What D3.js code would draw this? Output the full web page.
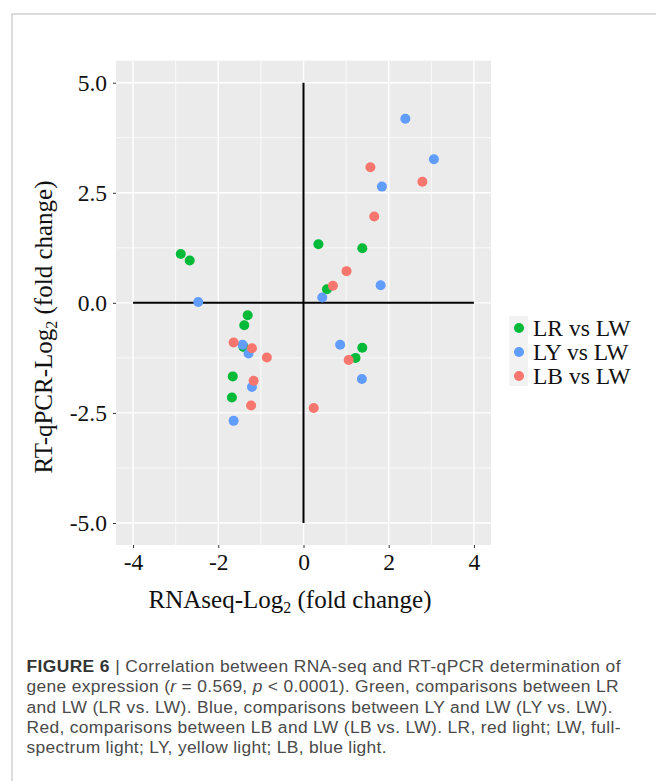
<!DOCTYPE html>
<html>
<head>
<meta charset="utf-8">
<script src="https://cdn.jsdelivr.net/npm/d3@7"></script>
<style>
  body { margin: 0; background: #fff; }
  svg { display: block; }
</style>
</head>
<body>
<div id="my_dataviz"></div>
<script>
// groups, in legend order
var groups = ["LR vs LW", "LY vs LW", "LB vs LW"];
var groupColors = ["#00BA38", "#619CFF", "#F8766D"];

// LR vs LW (green)
var lrX = [-2.88, -2.67, -1.31, -1.39, -1.41, -1.66, -1.68, 0.35, 1.38, 0.55, 1.38, 1.22];
var lrY = [1.11, 0.96, -0.28, -0.51, -1.00, -1.67, -2.15, 1.33, 1.24, 0.31, -1.02, -1.25];
// LY vs LW (blue)
var lyX = [-2.47, -1.43, -1.29, -1.21, -1.64, 2.39, 3.06, 1.84, 1.81, 0.44, 0.86, 1.37];
var lyY = [0.02, -0.95, -1.15, -1.91, -2.68, 4.18, 3.26, 2.64, 0.40, 0.12, -0.95, -1.73];
// LB vs LW (red)
var lbX = [-1.64, -1.21, -0.86, -1.17, -1.23, 0.24, 1.57, 2.79, 1.66, 1.01, 0.69, 1.06];
var lbY = [-0.90, -1.03, -1.24, -1.77, -2.33, -2.39, 3.08, 2.75, 1.96, 0.72, 0.39, -1.30];

// tick values
var xTicks = [-4, -2, 0, 2, 4];
var xMinor = [-3, -1, 1, 3];
var yTicks = [-5, -2.5, 0, 2.5, 5];
var yMinor = [-3.75, -1.25, 1.25, 3.75];

var W = 656, H = 781;
var svg = d3.select("#my_dataviz")
  .append("svg")
  .attr("width", W)
  .attr("height", H);

// outer frame (only top/left visible)
svg.append("rect")
  .attr("x", 12).attr("y", 14)
  .attr("width", W).attr("height", H)
  .attr("fill", "none")
  .attr("stroke", "#c4c4c4")
  .attr("stroke-width", 1.2);

// panel
var panel = {left: 116, right: 491, top: 60.7, bottom: 545};

var x = d3.scaleLinear().domain([-4.4, 4.4]).range([panel.left, panel.right]);
var y = d3.scaleLinear().domain([-5.5, 5.5]).range([panel.bottom, panel.top]);

svg.append("rect")
  .attr("x", panel.left).attr("y", panel.top)
  .attr("width", panel.right - panel.left)
  .attr("height", panel.bottom - panel.top)
  .attr("fill", "#EBEBEB");

var grid = svg.append("g");
// minor grid
grid.selectAll(".vminor").data(xMinor).enter().append("line")
  .attr("x1", d => x(d)).attr("x2", d => x(d))
  .attr("y1", panel.top).attr("y2", panel.bottom)
  .attr("stroke", "#fff").attr("stroke-width", 0.7);
grid.selectAll(".hminor").data(yMinor).enter().append("line")
  .attr("y1", d => y(d)).attr("y2", d => y(d))
  .attr("x1", panel.left).attr("x2", panel.right)
  .attr("stroke", "#fff").attr("stroke-width", 0.7);
// major grid
grid.selectAll(".vmajor").data(xTicks).enter().append("line")
  .attr("x1", d => x(d)).attr("x2", d => x(d))
  .attr("y1", panel.top).attr("y2", panel.bottom)
  .attr("stroke", "#fff").attr("stroke-width", 1.4);
grid.selectAll(".hmajor").data(yTicks).enter().append("line")
  .attr("y1", d => y(d)).attr("y2", d => y(d))
  .attr("x1", panel.left).attr("x2", panel.right)
  .attr("stroke", "#fff").attr("stroke-width", 1.4);

// axes (plain hyphen for minus, like the original)
var xAxis = svg.append("g")
  .attr("transform", "translate(0," + panel.bottom + ")")
  .call(d3.axisBottom(x).tickValues(xTicks).tickSize(3).tickPadding(5)
    .tickFormat(d => String(d)));
var yAxis = svg.append("g")
  .attr("transform", "translate(" + panel.left + ",0)")
  .call(d3.axisLeft(y).tickValues(yTicks).tickSize(3).tickPadding(6)
    .tickFormat(d => d.toFixed(1)));

[xAxis, yAxis].forEach(function(a){
  a.select(".domain").remove();
  a.selectAll(".tick line").attr("stroke", "#333").attr("stroke-width", 1);
  a.selectAll(".tick text")
    .attr("fill", "#111")
    .style("font-family", "'Liberation Serif', 'Times New Roman', serif")
    .style("font-size", "23.5px");
});

// zero lines from -4..4 and -5..5
svg.append("line")
  .attr("x1", x(-4)).attr("x2", x(4))
  .attr("y1", y(0)).attr("y2", y(0))
  .attr("stroke", "#000").attr("stroke-width", 2);
svg.append("line")
  .attr("x1", x(0)).attr("x2", x(0))
  .attr("y1", y(-5)).attr("y2", y(5))
  .attr("stroke", "#000").attr("stroke-width", 2);

// points, drawn in series order
var series = [
  {name: groups[0], xs: lrX, ys: lrY, color: groupColors[0]},
  {name: groups[1], xs: lyX, ys: lyY, color: groupColors[1]},
  {name: groups[2], xs: lbX, ys: lbY, color: groupColors[2]}
];
var pts = [];
series.forEach(function(s){
  s.xs.forEach(function(v, i){ pts.push({x: v, y: s.ys[i], color: s.color}); });
});
svg.append("g").selectAll("circle")
  .data(pts).enter().append("circle")
  .attr("cx", d => x(d.x))
  .attr("cy", d => y(d.y))
  .attr("r", 5)
  .attr("fill", d => d.color);

// axis titles
var serif = "'Liberation Serif', 'Times New Roman', serif";
var xt = svg.append("text")
  .attr("x", 290).attr("y", 608)
  .attr("text-anchor", "middle")
  .style("font-family", serif).style("font-size", "25px").attr("fill", "#111");
xt.append("tspan").text("RNAseq-Log");
xt.append("tspan").attr("dy", 5).style("font-size", "16px").text("2");
xt.append("tspan").attr("dy", -5).text(" (fold change)");

var yt = svg.append("text")
  .attr("transform", "translate(52,327) rotate(-90)")
  .attr("text-anchor", "middle")
  .style("font-family", serif).style("font-size", "25px").attr("fill", "#111");
yt.append("tspan").text("RT-qPCR-Log");
yt.append("tspan").attr("dy", 5).style("font-size", "16px").text("2");
yt.append("tspan").attr("dy", -5).text(" (fold change)");

// legend
var leg = svg.append("g").attr("transform", "translate(509,316)");
leg.append("rect")
  .attr("width", 19).attr("height", 70)
  .attr("fill", "#F2F2F2");
var item = leg.selectAll(".item").data(groups).enter().append("g")
  .attr("transform", (d, i) => "translate(0," + (12 + i * 24) + ")");
item.append("circle")
  .attr("cx", 10).attr("r", 5)
  .attr("fill", (d, i) => groupColors[i]);
item.append("text")
  .attr("x", 24).attr("y", 8)
  .style("font-family", serif).style("font-size", "23.5px")
  .attr("fill", "#111")
  .text(d => d);

// caption, widths stretched to the printed line lengths
var sans = "'Liberation Sans', Arial, Helvetica, sans-serif";
var cap = svg.append("g")
  .style("font-family", sans).style("font-size", "17.4px").attr("fill", "#4a4a4a");
var l1 = cap.append("text").attr("x", 26.5).attr("y", 672)
  .attr("textLength", 594).attr("lengthAdjust", "spacing");
l1.append("tspan").style("font-weight", "bold").attr("fill", "#333").text("FIGURE 6");
l1.append("tspan").text(" | Correlation between RNA-seq and RT-qPCR determination of");
var l2 = cap.append("text").attr("x", 26.5).attr("y", 692.3)
  .attr("textLength", 592).attr("lengthAdjust", "spacing");
l2.append("tspan").text("gene expression (");
l2.append("tspan").style("font-style", "italic").text("r");
l2.append("tspan").text(" = 0.569, ");
l2.append("tspan").style("font-style", "italic").text("p");
l2.append("tspan").text(" < 0.0001). Green, comparisons between LR");
cap.append("text").attr("x", 26.5).attr("y", 712.6)
  .attr("textLength", 586).attr("lengthAdjust", "spacing")
  .text("and LW (LR vs. LW). Blue, comparisons between LY and LW (LY vs. LW).");
cap.append("text").attr("x", 26.5).attr("y", 732.9)
  .attr("textLength", 594).attr("lengthAdjust", "spacing")
  .text("Red, comparisons between LB and LW (LB vs. LW). LR, red light; LW, full-");
cap.append("text").attr("x", 26.5).attr("y", 753.2)
  .attr("textLength", 360).attr("lengthAdjust", "spacing")
  .text("spectrum light; LY, yellow light; LB, blue light.");
</script>
</body>
</html>
